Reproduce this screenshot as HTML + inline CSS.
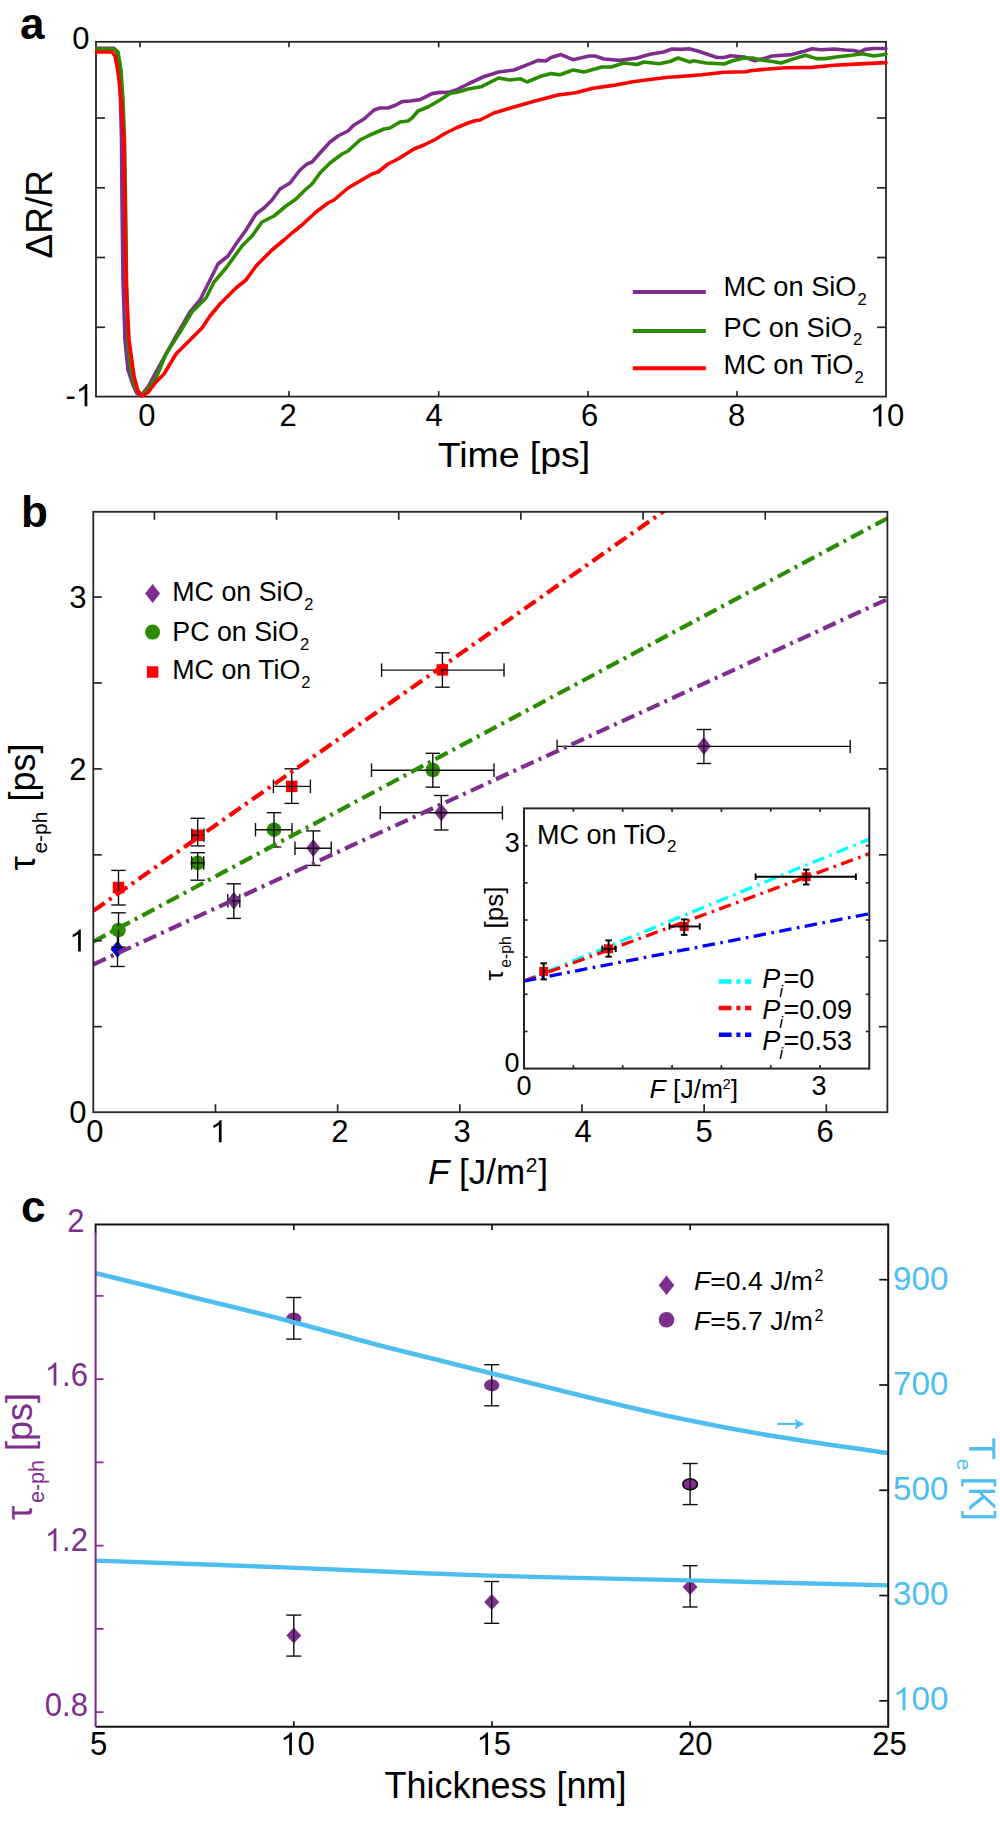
<!DOCTYPE html>
<html><head><meta charset="utf-8"><style>
html,body{margin:0;padding:0;background:#fff;}
svg{display:block;}
text{font-family:"Liberation Sans", sans-serif;}
</style></head><body>
<svg width="1000" height="1829" viewBox="0 0 1000 1829" font-family='"Liberation Sans", sans-serif'>
<defs>
<clipPath id="clipA"><rect x="95.0" y="41.8" width="793.0" height="356.8"/></clipPath>
<clipPath id="clipB"><rect x="93.3" y="511.8" width="794.1" height="600.4000000000001"/></clipPath>
<clipPath id="clipI"><rect x="524.0" y="808.4" width="345.29999999999995" height="260.19999999999993"/></clipPath>
</defs>
<rect width="1000" height="1829" fill="#fff"/>
<rect x="96.0" y="41.8" width="790.0" height="354.8" fill="none" stroke="#262626" stroke-width="1.8"/>
<line x1="140.00" y1="41.80" x2="140.00" y2="47.30" stroke="#262626" stroke-width="1.7" />
<line x1="140.00" y1="396.60" x2="140.00" y2="391.10" stroke="#262626" stroke-width="1.7" />
<line x1="289.00" y1="41.80" x2="289.00" y2="47.30" stroke="#262626" stroke-width="1.7" />
<line x1="289.00" y1="396.60" x2="289.00" y2="391.10" stroke="#262626" stroke-width="1.7" />
<line x1="438.70" y1="41.80" x2="438.70" y2="47.30" stroke="#262626" stroke-width="1.7" />
<line x1="438.70" y1="396.60" x2="438.70" y2="391.10" stroke="#262626" stroke-width="1.7" />
<line x1="588.00" y1="41.80" x2="588.00" y2="47.30" stroke="#262626" stroke-width="1.7" />
<line x1="588.00" y1="396.60" x2="588.00" y2="391.10" stroke="#262626" stroke-width="1.7" />
<line x1="737.00" y1="41.80" x2="737.00" y2="47.30" stroke="#262626" stroke-width="1.7" />
<line x1="737.00" y1="396.60" x2="737.00" y2="391.10" stroke="#262626" stroke-width="1.7" />
<line x1="96.00" y1="118.00" x2="105.00" y2="118.00" stroke="#262626" stroke-width="1.7" />
<line x1="886.00" y1="118.00" x2="877.00" y2="118.00" stroke="#262626" stroke-width="1.7" />
<line x1="96.00" y1="187.80" x2="105.00" y2="187.80" stroke="#262626" stroke-width="1.7" />
<line x1="886.00" y1="187.80" x2="877.00" y2="187.80" stroke="#262626" stroke-width="1.7" />
<line x1="96.00" y1="257.50" x2="105.00" y2="257.50" stroke="#262626" stroke-width="1.7" />
<line x1="886.00" y1="257.50" x2="877.00" y2="257.50" stroke="#262626" stroke-width="1.7" />
<line x1="96.00" y1="327.30" x2="105.00" y2="327.30" stroke="#262626" stroke-width="1.7" />
<line x1="886.00" y1="327.30" x2="877.00" y2="327.30" stroke="#262626" stroke-width="1.7" />
<g clip-path="url(#clipA)">
<polyline points="96.0,48.4 114.0,48.4 117.0,52.0 119.0,65.0 120.5,100.0 121.5,140.0 122.0,200.0 123.0,280.0 125.0,340.0 128.0,370.0 133.0,385.0 137.0,393.5 141.0,395.5 148.0,387.0 156.0,372.0 166.0,354.0 176.0,336.0 190.0,312.0 200.0,300.0 208.0,284.0 218.0,264.0 228.0,256.0 236.0,244.0 246.0,230.0 256.0,214.0 264.0,208.0 272.0,200.0 280.0,189.0 290.0,183.0 300.0,170.0 307.0,164.0 312.0,162.0 320.0,153.0 330.0,142.0 338.0,136.0 348.0,131.0 354.0,125.0 364.0,119.0 374.0,110.0 380.0,108.0 388.0,108.0 396.0,105.0 402.0,101.6 410.0,101.0 420.0,99.6 432.0,93.6 440.0,92.4 448.0,92.4 456.0,90.0 468.0,84.0 483.0,77.0 498.6,72.0 514.0,70.0 527.0,64.8 538.0,60.4 546.0,61.0 551.0,57.5 561.0,54.6 573.0,59.7 589.0,56.0 595.0,56.0 604.0,59.0 620.0,60.4 637.0,58.0 650.0,54.2 663.6,52.0 672.0,49.0 681.0,49.4 689.0,48.7 697.6,51.0 706.0,53.8 717.0,57.5 724.0,57.5 730.6,55.7 744.0,57.0 755.0,60.8 763.6,58.6 772.0,56.0 792.0,54.6 803.0,51.6 812.0,48.7 821.0,49.8 834.0,49.0 845.0,50.0 854.0,50.5 860.0,52.0 865.0,49.4 873.6,48.5 886.0,48.5" fill="none" stroke="#7E2F8E" stroke-width="3.6" stroke-linejoin="round" stroke-linecap="round" />
<polyline points="96.0,49.0 114.0,49.0 118.0,52.0 121.0,70.0 123.0,100.0 124.5,140.0 125.5,200.0 126.5,280.0 128.0,340.0 131.0,370.0 135.0,387.0 141.0,395.5 148.0,389.0 156.0,378.0 166.0,354.0 180.0,332.0 192.0,312.0 206.0,298.0 214.0,282.0 226.0,268.0 242.0,246.0 252.0,236.0 262.0,222.0 274.0,216.0 286.0,206.0 296.0,199.0 304.0,191.0 312.0,184.0 320.0,173.0 330.0,163.0 342.0,154.0 348.0,151.0 360.0,140.0 370.0,135.0 384.0,129.0 390.0,128.0 400.0,122.0 408.0,121.0 412.0,118.0 418.0,111.0 428.0,107.0 440.0,100.0 450.0,93.6 458.0,92.0 468.0,89.0 481.0,86.8 498.6,78.0 509.6,80.0 520.6,78.8 527.0,82.0 540.0,76.6 551.0,73.6 560.0,74.7 573.0,70.0 584.0,72.0 602.0,67.0 611.0,67.0 624.0,63.0 637.0,64.5 644.0,62.0 659.0,63.7 670.0,61.5 678.0,58.0 690.0,62.0 693.0,60.8 706.0,63.0 724.0,64.0 732.8,60.8 743.8,58.0 752.6,58.0 761.4,60.0 772.4,61.5 781.0,63.0 794.4,58.6 805.4,55.3 816.4,58.6 825.0,58.6 838.0,56.8 851.6,55.3 862.6,53.8 873.6,56.0 886.0,54.2" fill="none" stroke="#2B8C00" stroke-width="3.6" stroke-linejoin="round" stroke-linecap="round" />
<polyline points="96.0,52.0 112.0,52.0 115.0,56.0 117.0,66.0 119.0,80.0 121.0,100.0 124.0,140.0 125.0,200.0 126.0,280.0 129.0,340.0 134.0,376.0 138.0,391.5 142.0,396.0 148.0,392.5 156.0,382.0 164.0,374.0 176.0,354.0 190.0,340.0 202.0,328.0 210.0,316.0 220.0,304.0 236.0,288.0 246.0,280.0 256.0,266.0 272.0,250.0 284.0,240.0 292.0,233.0 302.0,225.0 316.0,212.0 328.0,203.0 334.0,200.0 348.0,188.0 360.0,181.0 372.0,174.0 378.0,172.0 388.0,164.0 398.0,159.0 414.0,149.0 424.0,145.0 436.0,139.0 444.0,134.0 456.0,128.0 468.0,123.0 474.0,121.0 480.0,120.0 494.0,113.0 514.0,107.0 536.0,100.8 558.0,95.0 575.6,92.7 593.0,88.3 613.0,85.4 633.0,81.7 646.0,80.0 668.0,77.3 680.0,76.5 702.0,74.7 724.0,72.2 746.0,71.8 750.4,70.7 768.0,69.0 785.6,67.8 812.0,67.4 834.0,65.2 856.0,64.1 886.0,62.6" fill="none" stroke="#FF0000" stroke-width="3.6" stroke-linejoin="round" stroke-linecap="round" />
</g>
<g transform="translate(88.30,48.70) scale(1,1.04)" fill="#000"><text x="-16.04" y="0" font-size="31">0</text></g>
<g transform="translate(87.30,406.20) scale(1,1.04)" fill="#000"><text x="-21.87" y="0" font-size="31">-</text><path transform="translate(-11.55,0) scale(0.01514,-0.01454)" d="M583,0 L763,0 L763,1466 L646,1466 C600,1380 520,1300 420,1230 C350,1180 280,1150 223,1127 L223,953 C290,978 380,1020 450,1065 C510,1100 560,1140 583,1163 Z"/></g>
<g transform="translate(146.80,426.40) scale(1,1.04)" fill="#000"><text x="-8.64" y="0" font-size="31">0</text></g>
<g transform="translate(288.00,426.40) scale(1,1.04)" fill="#000"><text x="-8.60" y="0" font-size="31">2</text></g>
<g transform="translate(434.00,426.40) scale(1,1.04)" fill="#000"><text x="-8.52" y="0" font-size="31">4</text></g>
<g transform="translate(589.80,426.40) scale(1,1.04)" fill="#000"><text x="-8.72" y="0" font-size="31">6</text></g>
<g transform="translate(736.60,426.40) scale(1,1.04)" fill="#000"><text x="-8.60" y="0" font-size="31">8</text></g>
<g transform="translate(888.20,426.40) scale(1,1.04)" fill="#000"><path transform="translate(-18.33,0) scale(0.01514,-0.01454)" d="M583,0 L763,0 L763,1466 L646,1466 C600,1380 520,1300 420,1230 C350,1180 280,1150 223,1127 L223,953 C290,978 380,1020 450,1065 C510,1100 560,1140 583,1163 Z"/><text x="-1.09" y="0" font-size="31">0</text></g>
<text transform="translate(437.65,467.2) scale(1.07,1)" font-size="35">Time [ps]</text>
<text transform="translate(51.6,258.4) rotate(-90) scale(1.02,1)" font-size="36.3">ΔR/R</text>
<text x="20.00" y="39.00" font-size="44" text-anchor="start" fill="#000" font-weight="bold">a</text>
<line x1="632.80" y1="292.00" x2="705.80" y2="292.00" stroke="#7E2F8E" stroke-width="4.0" />
<line x1="632.80" y1="331.00" x2="705.80" y2="331.00" stroke="#2B8C00" stroke-width="4.0" />
<line x1="632.80" y1="368.20" x2="705.80" y2="368.20" stroke="#FF0000" stroke-width="4.0" />
<text x="723.5" y="296.2" font-size="27.2">MC on SiO<tspan font-size="16.5" dx="1" dy="8.8">2</tspan></text>
<text x="723.5" y="336.5" font-size="27.2">PC on SiO<tspan font-size="16.5" dx="1" dy="8.8">2</tspan></text>
<text x="723.5" y="373.7" font-size="27.2">MC on TiO<tspan font-size="16.5" dx="1" dy="8.8">2</tspan></text>
<polygon points="117.50,940.80 124.50,949.30 117.50,957.80 110.50,949.30" fill="#0000FF" />
<polygon points="233.80,891.80 240.80,900.80 233.80,909.80 226.80,900.80" fill="#7E2F8E" />
<polygon points="313.30,839.00 320.30,848.00 313.30,857.00 306.30,848.00" fill="#7E2F8E" />
<polygon points="441.30,803.50 448.30,812.50 441.30,821.50 434.30,812.50" fill="#7E2F8E" />
<polygon points="703.90,737.10 710.90,746.10 703.90,755.10 696.90,746.10" fill="#7E2F8E" />
<line x1="117.50" y1="932.00" x2="117.50" y2="966.50" stroke="#111" stroke-width="1.4" />
<line x1="110.25" y1="932.00" x2="124.75" y2="932.00" stroke="#111" stroke-width="1.4" />
<line x1="110.25" y1="966.50" x2="124.75" y2="966.50" stroke="#111" stroke-width="1.4" />
<line x1="233.80" y1="883.80" x2="233.80" y2="918.40" stroke="#111" stroke-width="1.4" />
<line x1="226.55" y1="883.80" x2="241.05" y2="883.80" stroke="#111" stroke-width="1.4" />
<line x1="226.55" y1="918.40" x2="241.05" y2="918.40" stroke="#111" stroke-width="1.4" />
<line x1="313.30" y1="830.90" x2="313.30" y2="865.40" stroke="#111" stroke-width="1.4" />
<line x1="306.05" y1="830.90" x2="320.55" y2="830.90" stroke="#111" stroke-width="1.4" />
<line x1="306.05" y1="865.40" x2="320.55" y2="865.40" stroke="#111" stroke-width="1.4" />
<line x1="441.30" y1="795.50" x2="441.30" y2="830.00" stroke="#111" stroke-width="1.4" />
<line x1="434.05" y1="795.50" x2="448.55" y2="795.50" stroke="#111" stroke-width="1.4" />
<line x1="434.05" y1="830.00" x2="448.55" y2="830.00" stroke="#111" stroke-width="1.4" />
<line x1="703.90" y1="729.50" x2="703.90" y2="763.50" stroke="#111" stroke-width="1.4" />
<line x1="696.65" y1="729.50" x2="711.15" y2="729.50" stroke="#111" stroke-width="1.4" />
<line x1="696.65" y1="763.50" x2="711.15" y2="763.50" stroke="#111" stroke-width="1.4" />
<line x1="227.80" y1="900.80" x2="239.80" y2="900.80" stroke="#111" stroke-width="1.4" />
<line x1="227.80" y1="894.05" x2="227.80" y2="907.55" stroke="#111" stroke-width="1.4" />
<line x1="239.80" y1="894.05" x2="239.80" y2="907.55" stroke="#111" stroke-width="1.4" />
<line x1="295.00" y1="848.20" x2="331.20" y2="848.20" stroke="#111" stroke-width="1.4" />
<line x1="295.00" y1="841.45" x2="295.00" y2="854.95" stroke="#111" stroke-width="1.4" />
<line x1="331.20" y1="841.45" x2="331.20" y2="854.95" stroke="#111" stroke-width="1.4" />
<line x1="380.30" y1="812.80" x2="502.40" y2="812.80" stroke="#111" stroke-width="1.4" />
<line x1="380.30" y1="806.05" x2="380.30" y2="819.55" stroke="#111" stroke-width="1.4" />
<line x1="502.40" y1="806.05" x2="502.40" y2="819.55" stroke="#111" stroke-width="1.4" />
<line x1="557.10" y1="746.40" x2="850.20" y2="746.40" stroke="#111" stroke-width="1.4" />
<line x1="557.10" y1="739.65" x2="557.10" y2="753.15" stroke="#111" stroke-width="1.4" />
<line x1="850.20" y1="739.65" x2="850.20" y2="753.15" stroke="#111" stroke-width="1.4" />
<circle cx="118.50" cy="930.00" r="7.3" fill="#2B8C00" />
<circle cx="197.70" cy="862.90" r="7.3" fill="#2B8C00" />
<circle cx="274.00" cy="829.70" r="7.3" fill="#2B8C00" />
<circle cx="432.80" cy="770.00" r="7.3" fill="#2B8C00" />
<line x1="118.50" y1="912.80" x2="118.50" y2="947.00" stroke="#111" stroke-width="1.4" />
<line x1="111.25" y1="912.80" x2="125.75" y2="912.80" stroke="#111" stroke-width="1.4" />
<line x1="111.25" y1="947.00" x2="125.75" y2="947.00" stroke="#111" stroke-width="1.4" />
<line x1="197.70" y1="852.70" x2="197.70" y2="880.20" stroke="#111" stroke-width="1.4" />
<line x1="190.45" y1="852.70" x2="204.95" y2="852.70" stroke="#111" stroke-width="1.4" />
<line x1="190.45" y1="880.20" x2="204.95" y2="880.20" stroke="#111" stroke-width="1.4" />
<line x1="274.00" y1="812.70" x2="274.00" y2="847.00" stroke="#111" stroke-width="1.4" />
<line x1="266.75" y1="812.70" x2="281.25" y2="812.70" stroke="#111" stroke-width="1.4" />
<line x1="266.75" y1="847.00" x2="281.25" y2="847.00" stroke="#111" stroke-width="1.4" />
<line x1="432.80" y1="753.30" x2="432.80" y2="787.20" stroke="#111" stroke-width="1.4" />
<line x1="425.55" y1="753.30" x2="440.05" y2="753.30" stroke="#111" stroke-width="1.4" />
<line x1="425.55" y1="787.20" x2="440.05" y2="787.20" stroke="#111" stroke-width="1.4" />
<line x1="191.70" y1="862.90" x2="203.70" y2="862.90" stroke="#111" stroke-width="1.4" />
<line x1="191.70" y1="856.15" x2="191.70" y2="869.65" stroke="#111" stroke-width="1.4" />
<line x1="203.70" y1="856.15" x2="203.70" y2="869.65" stroke="#111" stroke-width="1.4" />
<line x1="255.50" y1="829.70" x2="292.00" y2="829.70" stroke="#111" stroke-width="1.4" />
<line x1="255.50" y1="822.95" x2="255.50" y2="836.45" stroke="#111" stroke-width="1.4" />
<line x1="292.00" y1="822.95" x2="292.00" y2="836.45" stroke="#111" stroke-width="1.4" />
<line x1="371.50" y1="770.20" x2="494.00" y2="770.20" stroke="#111" stroke-width="1.4" />
<line x1="371.50" y1="763.45" x2="371.50" y2="776.95" stroke="#111" stroke-width="1.4" />
<line x1="494.00" y1="763.45" x2="494.00" y2="776.95" stroke="#111" stroke-width="1.4" />
<rect x="112.75" y="881.75" width="11.5" height="11.5" fill="#FF0000"/>
<rect x="191.95" y="829.55" width="11.5" height="11.5" fill="#FF0000"/>
<rect x="285.95" y="780.65" width="11.5" height="11.5" fill="#FF0000"/>
<rect x="436.65" y="664.15" width="11.5" height="11.5" fill="#FF0000"/>
<line x1="118.50" y1="870.40" x2="118.50" y2="905.00" stroke="#111" stroke-width="1.4" />
<line x1="111.25" y1="870.40" x2="125.75" y2="870.40" stroke="#111" stroke-width="1.4" />
<line x1="111.25" y1="905.00" x2="125.75" y2="905.00" stroke="#111" stroke-width="1.4" />
<line x1="197.70" y1="818.30" x2="197.70" y2="845.90" stroke="#111" stroke-width="1.4" />
<line x1="190.45" y1="818.30" x2="204.95" y2="818.30" stroke="#111" stroke-width="1.4" />
<line x1="190.45" y1="845.90" x2="204.95" y2="845.90" stroke="#111" stroke-width="1.4" />
<line x1="291.70" y1="768.80" x2="291.70" y2="803.40" stroke="#111" stroke-width="1.4" />
<line x1="284.45" y1="768.80" x2="298.95" y2="768.80" stroke="#111" stroke-width="1.4" />
<line x1="284.45" y1="803.40" x2="298.95" y2="803.40" stroke="#111" stroke-width="1.4" />
<line x1="442.40" y1="652.80" x2="442.40" y2="687.20" stroke="#111" stroke-width="1.4" />
<line x1="435.15" y1="652.80" x2="449.65" y2="652.80" stroke="#111" stroke-width="1.4" />
<line x1="435.15" y1="687.20" x2="449.65" y2="687.20" stroke="#111" stroke-width="1.4" />
<line x1="191.80" y1="835.30" x2="204.00" y2="835.30" stroke="#111" stroke-width="1.4" />
<line x1="191.80" y1="828.55" x2="191.80" y2="842.05" stroke="#111" stroke-width="1.4" />
<line x1="204.00" y1="828.55" x2="204.00" y2="842.05" stroke="#111" stroke-width="1.4" />
<line x1="273.40" y1="786.40" x2="310.40" y2="786.40" stroke="#111" stroke-width="1.4" />
<line x1="273.40" y1="779.65" x2="273.40" y2="793.15" stroke="#111" stroke-width="1.4" />
<line x1="310.40" y1="779.65" x2="310.40" y2="793.15" stroke="#111" stroke-width="1.4" />
<line x1="381.60" y1="670.10" x2="504.00" y2="670.10" stroke="#111" stroke-width="1.4" />
<line x1="381.60" y1="663.35" x2="381.60" y2="676.85" stroke="#111" stroke-width="1.4" />
<line x1="504.00" y1="663.35" x2="504.00" y2="676.85" stroke="#111" stroke-width="1.4" />
<g clip-path="url(#clipB)">
<line x1="93.30" y1="964.47" x2="887.40" y2="599.20" stroke="#7E2F8E" stroke-width="4.2" stroke-dasharray="13.8 5.4 3 5.5"/>
<line x1="93.30" y1="941.61" x2="887.40" y2="518.26" stroke="#2B8C00" stroke-width="4.2" stroke-dasharray="13.8 5.4 3 5.5"/>
<line x1="93.30" y1="910.85" x2="887.40" y2="354.57" stroke="#FF0000" stroke-width="4.2" stroke-dasharray="13.8 5.4 3 5.5"/>
</g>
<rect x="93.3" y="511.8" width="794.1" height="600.4000000000001" fill="none" stroke="#262626" stroke-width="1.8"/>
<line x1="154.38" y1="511.80" x2="154.38" y2="519.80" stroke="#262626" stroke-width="1.7" />
<line x1="276.56" y1="511.80" x2="276.56" y2="519.80" stroke="#262626" stroke-width="1.7" />
<line x1="398.73" y1="511.80" x2="398.73" y2="519.80" stroke="#262626" stroke-width="1.7" />
<line x1="520.89" y1="511.80" x2="520.89" y2="519.80" stroke="#262626" stroke-width="1.7" />
<line x1="643.06" y1="511.80" x2="643.06" y2="519.80" stroke="#262626" stroke-width="1.7" />
<line x1="765.24" y1="511.80" x2="765.24" y2="519.80" stroke="#262626" stroke-width="1.7" />
<line x1="215.47" y1="1112.20" x2="215.47" y2="1104.20" stroke="#262626" stroke-width="1.7" />
<line x1="337.64" y1="1112.20" x2="337.64" y2="1104.20" stroke="#262626" stroke-width="1.7" />
<line x1="459.81" y1="1112.20" x2="459.81" y2="1104.20" stroke="#262626" stroke-width="1.7" />
<line x1="581.98" y1="1112.20" x2="581.98" y2="1104.20" stroke="#262626" stroke-width="1.7" />
<line x1="704.15" y1="1112.20" x2="704.15" y2="1104.20" stroke="#262626" stroke-width="1.7" />
<line x1="826.32" y1="1112.20" x2="826.32" y2="1104.20" stroke="#262626" stroke-width="1.7" />
<line x1="93.30" y1="1026.67" x2="101.80" y2="1026.67" stroke="#262626" stroke-width="1.7" />
<line x1="887.40" y1="1026.67" x2="878.90" y2="1026.67" stroke="#262626" stroke-width="1.7" />
<line x1="93.30" y1="940.75" x2="101.80" y2="940.75" stroke="#262626" stroke-width="1.7" />
<line x1="887.40" y1="940.75" x2="878.90" y2="940.75" stroke="#262626" stroke-width="1.7" />
<line x1="93.30" y1="854.82" x2="101.80" y2="854.82" stroke="#262626" stroke-width="1.7" />
<line x1="887.40" y1="854.82" x2="878.90" y2="854.82" stroke="#262626" stroke-width="1.7" />
<line x1="93.30" y1="768.90" x2="101.80" y2="768.90" stroke="#262626" stroke-width="1.7" />
<line x1="887.40" y1="768.90" x2="878.90" y2="768.90" stroke="#262626" stroke-width="1.7" />
<line x1="93.30" y1="682.97" x2="101.80" y2="682.97" stroke="#262626" stroke-width="1.7" />
<line x1="887.40" y1="682.97" x2="878.90" y2="682.97" stroke="#262626" stroke-width="1.7" />
<line x1="93.30" y1="597.05" x2="101.80" y2="597.05" stroke="#262626" stroke-width="1.7" />
<line x1="887.40" y1="597.05" x2="878.90" y2="597.05" stroke="#262626" stroke-width="1.7" />
<g transform="translate(86.50,1123.40) scale(1,1.04)" fill="#000"><text x="-17.24" y="0" font-size="31">0</text></g>
<g transform="translate(86.50,951.55) scale(1,1.04)" fill="#000"><path transform="translate(-17.24,0) scale(0.01514,-0.01454)" d="M583,0 L763,0 L763,1466 L646,1466 C600,1380 520,1300 420,1230 C350,1180 280,1150 223,1127 L223,953 C290,978 380,1020 450,1065 C510,1100 560,1140 583,1163 Z"/></g>
<g transform="translate(86.50,779.70) scale(1,1.04)" fill="#000"><text x="-17.24" y="0" font-size="31">2</text></g>
<g transform="translate(86.50,607.85) scale(1,1.04)" fill="#000"><text x="-17.24" y="0" font-size="31">3</text></g>
<g transform="translate(95.00,1142.30) scale(1,1.04)" fill="#000"><text x="-8.64" y="0" font-size="31">0</text></g>
<g transform="translate(217.50,1142.30) scale(1,1.04)" fill="#000"><path transform="translate(-7.46,0) scale(0.01514,-0.01454)" d="M583,0 L763,0 L763,1466 L646,1466 C600,1380 520,1300 420,1230 C350,1180 280,1150 223,1127 L223,953 C290,978 380,1020 450,1065 C510,1100 560,1140 583,1163 Z"/></g>
<g transform="translate(339.90,1142.30) scale(1,1.04)" fill="#000"><text x="-8.60" y="0" font-size="31">2</text></g>
<g transform="translate(462.00,1142.30) scale(1,1.04)" fill="#000"><text x="-8.52" y="0" font-size="31">3</text></g>
<g transform="translate(582.90,1142.30) scale(1,1.04)" fill="#000"><text x="-8.52" y="0" font-size="31">4</text></g>
<g transform="translate(704.10,1142.30) scale(1,1.04)" fill="#000"><text x="-8.60" y="0" font-size="31">5</text></g>
<g transform="translate(825.30,1142.30) scale(1,1.04)" fill="#000"><text x="-8.72" y="0" font-size="31">6</text></g>
<polygon points="152.60,583.90 160.10,593.40 152.60,602.90 145.10,593.40" fill="#7E2F8E" />
<circle cx="152.60" cy="632.10" r="7.5" fill="#2B8C00" />
<rect x="146.85" y="666.25" width="11.5" height="11.5" fill="#FF0000"/>
<text x="172.3" y="600.7" font-size="26.8">MC on SiO<tspan font-size="16.5" dx="1" dy="8.8">2</tspan></text>
<text x="172.3" y="641.2" font-size="26.8">PC on SiO<tspan font-size="16.5" dx="1" dy="8.8">2</tspan></text>
<text x="172.3" y="679" font-size="26.8">MC on TiO<tspan font-size="16.5" dx="1" dy="8.8">2</tspan></text>
<text x="428" y="1183.6" font-size="35"><tspan font-style="italic">F</tspan> [J/m</text>
<text x="525.70" y="1171.50" font-size="21" text-anchor="start" fill="#000" >2</text>
<text x="538.30" y="1183.60" font-size="35" text-anchor="start" fill="#000" >]</text>
<g transform="translate(34.5,870.6) rotate(-90)"><text x="0" y="0" font-size="36">τ</text><text x="17" y="12" font-size="21">e-ph</text><text x="69" y="0" font-size="36">[ps]</text></g>
<text x="21.00" y="526.50" font-size="44" text-anchor="start" fill="#000" font-weight="bold">b</text>
<rect x="524.0" y="808.4" width="345.29999999999995" height="260.19999999999993" fill="#fff"/>
<g clip-path="url(#clipI)">
<line x1="524.00" y1="981.07" x2="869.45" y2="839.09" stroke="#00FFFF" stroke-width="3.3" stroke-dasharray="12.5 5.5 2.6 5.4"/>
<line x1="524.00" y1="981.07" x2="869.45" y2="853.65" stroke="#FF0000" stroke-width="3.3" stroke-dasharray="12.5 5.5 2.6 5.4"/>
<line x1="524.00" y1="981.07" x2="869.45" y2="913.72" stroke="#0000FF" stroke-width="3.3" stroke-dasharray="12.5 5.5 2.6 5.4"/>
</g>
<rect x="539.20" y="966.90" width="9" height="9" fill="#FF0000"/>
<rect x="604.10" y="944.30" width="9" height="9" fill="#FF0000"/>
<rect x="679.70" y="922.00" width="9" height="9" fill="#FF0000"/>
<rect x="801.70" y="872.30" width="9" height="9" fill="#FF0000"/>
<line x1="543.70" y1="963.30" x2="543.70" y2="979.40" stroke="#000" stroke-width="1.9" />
<line x1="540.45" y1="963.30" x2="546.95" y2="963.30" stroke="#000" stroke-width="1.9" />
<line x1="540.45" y1="979.40" x2="546.95" y2="979.40" stroke="#000" stroke-width="1.9" />
<line x1="608.60" y1="940.40" x2="608.60" y2="956.70" stroke="#000" stroke-width="1.9" />
<line x1="605.35" y1="940.40" x2="611.85" y2="940.40" stroke="#000" stroke-width="1.9" />
<line x1="605.35" y1="956.70" x2="611.85" y2="956.70" stroke="#000" stroke-width="1.9" />
<line x1="684.20" y1="919.40" x2="684.20" y2="934.90" stroke="#000" stroke-width="1.9" />
<line x1="680.95" y1="919.40" x2="687.45" y2="919.40" stroke="#000" stroke-width="1.9" />
<line x1="680.95" y1="934.90" x2="687.45" y2="934.90" stroke="#000" stroke-width="1.9" />
<line x1="806.20" y1="869.60" x2="806.20" y2="884.50" stroke="#000" stroke-width="1.9" />
<line x1="802.95" y1="869.60" x2="809.45" y2="869.60" stroke="#000" stroke-width="1.9" />
<line x1="802.95" y1="884.50" x2="809.45" y2="884.50" stroke="#000" stroke-width="1.9" />
<line x1="602.30" y1="948.80" x2="615.70" y2="948.80" stroke="#000" stroke-width="1.9" />
<line x1="602.30" y1="945.55" x2="602.30" y2="952.05" stroke="#000" stroke-width="1.9" />
<line x1="615.70" y1="945.55" x2="615.70" y2="952.05" stroke="#000" stroke-width="1.9" />
<line x1="669.50" y1="926.50" x2="699.70" y2="926.50" stroke="#000" stroke-width="1.9" />
<line x1="669.50" y1="923.25" x2="669.50" y2="929.75" stroke="#000" stroke-width="1.9" />
<line x1="699.70" y1="923.25" x2="699.70" y2="929.75" stroke="#000" stroke-width="1.9" />
<line x1="755.60" y1="876.80" x2="855.90" y2="876.80" stroke="#000" stroke-width="1.9" />
<line x1="755.60" y1="873.55" x2="755.60" y2="880.05" stroke="#000" stroke-width="1.9" />
<line x1="855.90" y1="873.55" x2="855.90" y2="880.05" stroke="#000" stroke-width="1.9" />
<rect x="524.0" y="808.4" width="345.29999999999995" height="260.19999999999993" fill="none" stroke="#262626" stroke-width="2"/>
<line x1="573.35" y1="808.40" x2="573.35" y2="811.90" stroke="#262626" stroke-width="1.7" />
<line x1="573.35" y1="1068.60" x2="573.35" y2="1065.10" stroke="#262626" stroke-width="1.7" />
<line x1="524.00" y1="1031.45" x2="527.50" y2="1031.45" stroke="#262626" stroke-width="1.7" />
<line x1="869.30" y1="1031.45" x2="865.80" y2="1031.45" stroke="#262626" stroke-width="1.7" />
<line x1="622.70" y1="808.40" x2="622.70" y2="811.90" stroke="#262626" stroke-width="1.7" />
<line x1="622.70" y1="1068.60" x2="622.70" y2="1065.10" stroke="#262626" stroke-width="1.7" />
<line x1="524.00" y1="994.30" x2="527.50" y2="994.30" stroke="#262626" stroke-width="1.7" />
<line x1="869.30" y1="994.30" x2="865.80" y2="994.30" stroke="#262626" stroke-width="1.7" />
<line x1="672.05" y1="808.40" x2="672.05" y2="811.90" stroke="#262626" stroke-width="1.7" />
<line x1="672.05" y1="1068.60" x2="672.05" y2="1065.10" stroke="#262626" stroke-width="1.7" />
<line x1="524.00" y1="957.15" x2="527.50" y2="957.15" stroke="#262626" stroke-width="1.7" />
<line x1="869.30" y1="957.15" x2="865.80" y2="957.15" stroke="#262626" stroke-width="1.7" />
<line x1="721.40" y1="808.40" x2="721.40" y2="811.90" stroke="#262626" stroke-width="1.7" />
<line x1="721.40" y1="1068.60" x2="721.40" y2="1065.10" stroke="#262626" stroke-width="1.7" />
<line x1="524.00" y1="920.00" x2="527.50" y2="920.00" stroke="#262626" stroke-width="1.7" />
<line x1="869.30" y1="920.00" x2="865.80" y2="920.00" stroke="#262626" stroke-width="1.7" />
<line x1="770.75" y1="808.40" x2="770.75" y2="811.90" stroke="#262626" stroke-width="1.7" />
<line x1="770.75" y1="1068.60" x2="770.75" y2="1065.10" stroke="#262626" stroke-width="1.7" />
<line x1="524.00" y1="882.85" x2="527.50" y2="882.85" stroke="#262626" stroke-width="1.7" />
<line x1="869.30" y1="882.85" x2="865.80" y2="882.85" stroke="#262626" stroke-width="1.7" />
<line x1="820.10" y1="808.40" x2="820.10" y2="811.90" stroke="#262626" stroke-width="1.7" />
<line x1="820.10" y1="1068.60" x2="820.10" y2="1065.10" stroke="#262626" stroke-width="1.7" />
<line x1="524.00" y1="845.70" x2="527.50" y2="845.70" stroke="#262626" stroke-width="1.7" />
<line x1="869.30" y1="845.70" x2="865.80" y2="845.70" stroke="#262626" stroke-width="1.7" />
<g transform="translate(518.70,852.00) scale(1,1.03)" fill="#000"><text x="-13.84" y="0" font-size="27">3</text></g>
<g transform="translate(518.40,1071.50) scale(1,1.03)" fill="#000"><text x="-13.97" y="0" font-size="27">0</text></g>
<g transform="translate(524.10,1094.70) scale(1,1.03)" fill="#000"><text x="-7.53" y="0" font-size="27">0</text></g>
<g transform="translate(818.80,1094.70) scale(1,1.03)" fill="#000"><text x="-7.42" y="0" font-size="27">3</text></g>
<text x="537" y="843.9" font-size="27">MC on TiO<tspan font-size="17" dx="1" dy="8.5">2</tspan></text>
<line x1="718.8" y1="981.5" x2="751.3" y2="981.5" stroke="#00FFFF" stroke-width="4.4" stroke-dasharray="12.8 4.8 4 4.6"/>
<line x1="718.8" y1="1008" x2="751.3" y2="1008" stroke="#FF0000" stroke-width="4.4" stroke-dasharray="12.8 4.8 4 4.6"/>
<line x1="718.8" y1="1034.8" x2="751.3" y2="1034.8" stroke="#0000FF" stroke-width="4.4" stroke-dasharray="12.8 4.8 4 4.6"/>
<text x="762.3" y="987.5" font-size="27" font-style="italic">P</text>
<text x="779.3" y="996.5" font-size="17" font-style="italic">i</text>
<text x="783.60" y="987.50" font-size="27" text-anchor="start" fill="#000" >=0</text>
<text x="762.3" y="1019.2" font-size="27" font-style="italic">P</text>
<text x="779.3" y="1028.2" font-size="17" font-style="italic">i</text>
<text x="783.60" y="1019.20" font-size="27" text-anchor="start" fill="#000" >=0.09</text>
<text x="762.3" y="1050.4" font-size="27" font-style="italic">P</text>
<text x="779.3" y="1059.4" font-size="17" font-style="italic">i</text>
<text x="783.60" y="1050.40" font-size="27" text-anchor="start" fill="#000" >=0.53</text>
<text x="649.6" y="1097.6" font-size="26.4"><tspan font-style="italic">F</tspan> [J/m</text>
<text x="722.60" y="1089.20" font-size="14.8" text-anchor="start" fill="#000" >2</text>
<text x="730.80" y="1097.60" font-size="26.4" text-anchor="start" fill="#000" >]</text>
<g transform="translate(503.2,980.5) rotate(-90)"><text x="0" y="0" font-size="26">τ</text><text x="12.7" y="7.5" font-size="15.8">e-ph</text><text x="52" y="0" font-size="26">[ps]</text></g>
<ellipse cx="293.80" cy="1318.40" rx="7.6" ry="6" fill="#7E2F8E" />
<ellipse cx="491.70" cy="1385.20" rx="7.6" ry="6" fill="#7E2F8E" />
<ellipse cx="690.10" cy="1484.30" rx="7.3" ry="5.6" fill="#7E2F8E" stroke="#000" stroke-width="1.5"/>
<polygon points="293.80,1627.60 301.30,1635.60 293.80,1643.60 286.30,1635.60" fill="#7E2F8E" />
<polygon points="491.70,1594.00 499.20,1602.00 491.70,1610.00 484.20,1602.00" fill="#7E2F8E" />
<polygon points="690.10,1579.00 697.60,1587.00 690.10,1595.00 682.60,1587.00" fill="#7E2F8E" />
<line x1="293.80" y1="1297.50" x2="293.80" y2="1339.10" stroke="#111" stroke-width="1.4" />
<line x1="286.30" y1="1297.50" x2="301.30" y2="1297.50" stroke="#111" stroke-width="1.4" />
<line x1="286.30" y1="1339.10" x2="301.30" y2="1339.10" stroke="#111" stroke-width="1.4" />
<line x1="491.70" y1="1364.70" x2="491.70" y2="1405.80" stroke="#111" stroke-width="1.4" />
<line x1="484.20" y1="1364.70" x2="499.20" y2="1364.70" stroke="#111" stroke-width="1.4" />
<line x1="484.20" y1="1405.80" x2="499.20" y2="1405.80" stroke="#111" stroke-width="1.4" />
<line x1="690.10" y1="1463.50" x2="690.10" y2="1504.60" stroke="#111" stroke-width="1.4" />
<line x1="682.60" y1="1463.50" x2="697.60" y2="1463.50" stroke="#111" stroke-width="1.4" />
<line x1="682.60" y1="1504.60" x2="697.60" y2="1504.60" stroke="#111" stroke-width="1.4" />
<line x1="293.80" y1="1615.10" x2="293.80" y2="1656.10" stroke="#111" stroke-width="1.4" />
<line x1="286.30" y1="1615.10" x2="301.30" y2="1615.10" stroke="#111" stroke-width="1.4" />
<line x1="286.30" y1="1656.10" x2="301.30" y2="1656.10" stroke="#111" stroke-width="1.4" />
<line x1="491.70" y1="1581.50" x2="491.70" y2="1623.30" stroke="#111" stroke-width="1.4" />
<line x1="484.20" y1="1581.50" x2="499.20" y2="1581.50" stroke="#111" stroke-width="1.4" />
<line x1="484.20" y1="1623.30" x2="499.20" y2="1623.30" stroke="#111" stroke-width="1.4" />
<line x1="690.10" y1="1565.70" x2="690.10" y2="1607.00" stroke="#111" stroke-width="1.4" />
<line x1="682.60" y1="1565.70" x2="697.60" y2="1565.70" stroke="#111" stroke-width="1.4" />
<line x1="682.60" y1="1607.00" x2="697.60" y2="1607.00" stroke="#111" stroke-width="1.4" />
<path d="M96,1273.2 C111.7,1277.1 157.7,1288.4 190,1296.4 C222.3,1304.4 258.3,1313.0 290,1321.2 C321.7,1329.4 355.0,1339.0 380,1345.5 C405.0,1352.0 420.0,1355.5 440,1360.5 C460.0,1365.5 475.0,1369.3 500,1375.5 C525.0,1381.7 560.0,1390.5 590,1397.7 C620.0,1404.9 650.0,1412.2 680,1418.5 C710.0,1424.8 735.3,1429.7 770,1435.5 C804.7,1441.3 868.6,1450.2 888.3,1453.2" fill="none" stroke="#4DBEEE" stroke-width="4.6"/>
<path d="M96,1560.6 C128.3,1561.8 224.3,1565.1 290,1567.6 C355.7,1570.1 423.3,1573.5 490,1575.6 C556.7,1577.7 623.6,1578.8 690,1580.4 C756.4,1582.0 855.2,1584.6 888.3,1585.4" fill="none" stroke="#4DBEEE" stroke-width="4.4"/>
<line x1="95.60" y1="1224.50" x2="888.20" y2="1224.50" stroke="#111" stroke-width="1.9" />
<line x1="95.60" y1="1726.70" x2="888.20" y2="1726.70" stroke="#111" stroke-width="2.0" />
<line x1="888.20" y1="1223.55" x2="888.20" y2="1727.70" stroke="#111" stroke-width="2.0" />
<line x1="95.60" y1="1223.55" x2="95.60" y2="1233.00" stroke="#111" stroke-width="1.9" />
<line x1="95.60" y1="1232.00" x2="95.60" y2="1726.70" stroke="#7E2F8E" stroke-width="2.1" />
<line x1="293.80" y1="1224.50" x2="293.80" y2="1230.00" stroke="#111" stroke-width="1.7" />
<line x1="293.80" y1="1726.70" x2="293.80" y2="1721.20" stroke="#111" stroke-width="1.7" />
<line x1="492.00" y1="1224.50" x2="492.00" y2="1230.00" stroke="#111" stroke-width="1.7" />
<line x1="492.00" y1="1726.70" x2="492.00" y2="1721.20" stroke="#111" stroke-width="1.7" />
<line x1="690.20" y1="1224.50" x2="690.20" y2="1230.00" stroke="#111" stroke-width="1.7" />
<line x1="690.20" y1="1726.70" x2="690.20" y2="1721.20" stroke="#111" stroke-width="1.7" />
<line x1="95.60" y1="1295.90" x2="103.60" y2="1295.90" stroke="#7E2F8E" stroke-width="1.7" />
<line x1="95.60" y1="1379.14" x2="103.60" y2="1379.14" stroke="#7E2F8E" stroke-width="1.7" />
<line x1="95.60" y1="1462.38" x2="103.60" y2="1462.38" stroke="#7E2F8E" stroke-width="1.7" />
<line x1="95.60" y1="1545.62" x2="103.60" y2="1545.62" stroke="#7E2F8E" stroke-width="1.7" />
<line x1="95.60" y1="1628.86" x2="103.60" y2="1628.86" stroke="#7E2F8E" stroke-width="1.7" />
<line x1="95.60" y1="1712.10" x2="103.60" y2="1712.10" stroke="#7E2F8E" stroke-width="1.7" />
<line x1="888.20" y1="1279.70" x2="879.20" y2="1279.70" stroke="#111" stroke-width="1.7" />
<line x1="888.20" y1="1384.98" x2="879.20" y2="1384.98" stroke="#111" stroke-width="1.7" />
<line x1="888.20" y1="1490.26" x2="879.20" y2="1490.26" stroke="#111" stroke-width="1.7" />
<line x1="888.20" y1="1595.54" x2="879.20" y2="1595.54" stroke="#111" stroke-width="1.7" />
<line x1="888.20" y1="1700.82" x2="879.20" y2="1700.82" stroke="#111" stroke-width="1.7" />
<g transform="translate(83.00,1232.30) scale(1,1.08)" fill="#7E2F8E"><text x="-15.65" y="0" font-size="31">2</text></g>
<g transform="translate(87.90,1385.50) scale(1,1.08)" fill="#7E2F8E"><path transform="translate(-43.10,0) scale(0.01514,-0.01454)" d="M583,0 L763,0 L763,1466 L646,1466 C600,1380 520,1300 420,1230 C350,1180 280,1150 223,1127 L223,953 C290,978 380,1020 450,1065 C510,1100 560,1140 583,1163 Z"/><text x="-25.85" y="0" font-size="31">.</text><text x="-17.24" y="0" font-size="31">6</text></g>
<g transform="translate(87.90,1551.20) scale(1,1.08)" fill="#7E2F8E"><path transform="translate(-43.10,0) scale(0.01514,-0.01454)" d="M583,0 L763,0 L763,1466 L646,1466 C600,1380 520,1300 420,1230 C350,1180 280,1150 223,1127 L223,953 C290,978 380,1020 450,1065 C510,1100 560,1140 583,1163 Z"/><text x="-25.85" y="0" font-size="31">.</text><text x="-17.24" y="0" font-size="31">2</text></g>
<g transform="translate(87.90,1716.20) scale(1,1.08)" fill="#7E2F8E"><text x="-43.10" y="0" font-size="31">0</text><text x="-25.85" y="0" font-size="31">.</text><text x="-17.24" y="0" font-size="31">8</text></g>
<g transform="translate(893.10,1290.00) scale(1.02,1.02)" fill="#4DBEEE"><text x="0.00" y="0" font-size="32.5">9</text><text x="18.08" y="0" font-size="32.5">0</text><text x="36.15" y="0" font-size="32.5">0</text></g>
<g transform="translate(893.10,1395.30) scale(1.02,1.02)" fill="#4DBEEE"><text x="0.00" y="0" font-size="32.5">7</text><text x="18.08" y="0" font-size="32.5">0</text><text x="36.15" y="0" font-size="32.5">0</text></g>
<g transform="translate(893.10,1499.80) scale(1.02,1.02)" fill="#4DBEEE"><text x="0.00" y="0" font-size="32.5">5</text><text x="18.08" y="0" font-size="32.5">0</text><text x="36.15" y="0" font-size="32.5">0</text></g>
<g transform="translate(893.10,1604.80) scale(1.02,1.02)" fill="#4DBEEE"><text x="0.00" y="0" font-size="32.5">3</text><text x="18.08" y="0" font-size="32.5">0</text><text x="36.15" y="0" font-size="32.5">0</text></g>
<g transform="translate(893.10,1710.10) scale(1.02,1.02)" fill="#4DBEEE"><path transform="translate(0.00,0) scale(0.01587,-0.01524)" d="M583,0 L763,0 L763,1466 L646,1466 C600,1380 520,1300 420,1230 C350,1180 280,1150 223,1127 L223,953 C290,978 380,1020 450,1065 C510,1100 560,1140 583,1163 Z"/><text x="18.08" y="0" font-size="32.5">0</text><text x="36.15" y="0" font-size="32.5">0</text></g>
<g transform="translate(98.50,1755.00) scale(1,1.06)" fill="#000"><text x="-8.60" y="0" font-size="31">5</text></g>
<g transform="translate(298.70,1755.00) scale(1,1.06)" fill="#000"><path transform="translate(-18.33,0) scale(0.01514,-0.01454)" d="M583,0 L763,0 L763,1466 L646,1466 C600,1380 520,1300 420,1230 C350,1180 280,1150 223,1127 L223,953 C290,978 380,1020 450,1065 C510,1100 560,1140 583,1163 Z"/><text x="-1.09" y="0" font-size="31">0</text></g>
<g transform="translate(494.80,1755.00) scale(1,1.06)" fill="#000"><path transform="translate(-18.29,0) scale(0.01514,-0.01454)" d="M583,0 L763,0 L763,1466 L646,1466 C600,1380 520,1300 420,1230 C350,1180 280,1150 223,1127 L223,953 C290,978 380,1020 450,1065 C510,1100 560,1140 583,1163 Z"/><text x="-1.05" y="0" font-size="31">5</text></g>
<g transform="translate(695.30,1755.00) scale(1,1.06)" fill="#000"><text x="-17.42" y="0" font-size="31">2</text><text x="-0.18" y="0" font-size="31">0</text></g>
<g transform="translate(889.60,1755.00) scale(1,1.06)" fill="#000"><text x="-17.38" y="0" font-size="31">2</text><text x="-0.14" y="0" font-size="31">5</text></g>
<text x="505.50" y="1797.80" font-size="36" text-anchor="middle" fill="#000" >Thickness [nm]</text>
<g transform="translate(31.5,1520) rotate(-90)" fill="#7E2F8E"><text x="0" y="0" font-size="36">τ</text><text x="17" y="12" font-size="21.5">e-ph</text><text x="69" y="0" font-size="36">[ps]</text></g>
<g transform="translate(969.3,1437.8) rotate(90)" fill="#4DBEEE"><text x="0" y="0" font-size="36">T</text><text x="21" y="12" font-size="21">e</text><text x="39" y="0" font-size="36">[K]</text></g>
<text x="21.00" y="1222.40" font-size="44" text-anchor="start" fill="#000" font-weight="bold">c</text>
<polygon points="666.50,1275.55 674.30,1285.30 666.50,1295.05 658.70,1285.30" fill="#7E2F8E" />
<circle cx="666.50" cy="1319.80" r="7.8" fill="#7E2F8E" />
<text x="694" y="1289.9" font-size="26.6"><tspan font-style="italic">F</tspan>=0.4 J/m</text>
<text x="814.50" y="1281.40" font-size="16" text-anchor="start" fill="#000" >2</text>
<text x="694" y="1329.7" font-size="26.6"><tspan font-style="italic">F</tspan>=5.7 J/m</text>
<text x="814.50" y="1321.20" font-size="16" text-anchor="start" fill="#000" >2</text>
<line x1="777.4" y1="1423.9" x2="798" y2="1423.9" stroke="#4DBEEE" stroke-width="2.1"/>
<polygon points="804.2,1424.1 794.4,1418.8 796.8,1424.1 794.2,1429.5" fill="#4DBEEE"/>
</svg>
</body></html>
